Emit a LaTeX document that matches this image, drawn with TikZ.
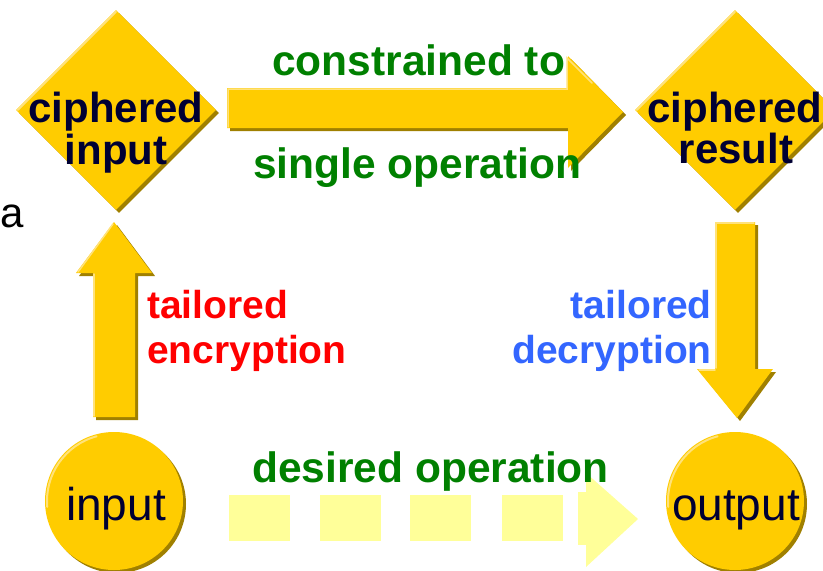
\documentclass[tikz,border=0pt]{standalone}
\usepackage{fontspec}
\setmainfont{Liberation Sans}
\usetikzlibrary{shapes.geometric}
\definecolor{gold}{HTML}{FFCC00}
\definecolor{shadowc}{HTML}{A08000}
\definecolor{hilite}{HTML}{FFE27A}
\definecolor{navy}{HTML}{000033}
\definecolor{dgreen}{HTML}{008000}
\definecolor{bblue}{HTML}{3366FF}
\definecolor{paleyel}{HTML}{FFFF99}
\begin{document}
\begin{tikzpicture}[x=1pt,y=-1pt,
  sh/.style={preaction={fill=shadowc, transform canvas={xshift=3pt,yshift=-3pt}}},
  hl/.style={draw=hilite, line width=2pt, line cap=round},
  dia/.style={diamond, aspect=1, minimum width=200pt, minimum height=200pt, inner sep=0pt, fill=gold, sh},
  circ/.style={circle, minimum size=138pt, inner sep=0pt, fill=gold, sh},
  btxt/.style={font=\fontsize{42}{48}\selectfont\bfseries, text=navy, inner sep=0pt, anchor=base},
  rtxt/.style={font=\fontsize{46}{50}\selectfont, text=navy, inner sep=0pt, anchor=base},
  gtxt/.style={font=\fontsize{42.5}{48}\selectfont\bfseries, text=dgreen, inner sep=0pt, anchor=base west},
  ltxt/.style={font=\fontsize{39}{44}\selectfont\bfseries, inner sep=0pt},
  dashblk/.style={fill=paleyel}
]
\useasboundingbox (0,0) rectangle (823,571);
\fill[white] (0,0) rectangle (823,571);

% diamonds
\node[dia] (ci) at (116,110) {};
\node[dia] (cr) at (735,110) {};
\draw[hl] ([shift={(2,0)}]ci.west) -- ([shift={(0,2)}]ci.north);
\draw[hl] ([shift={(2,0)}]cr.west) -- ([shift={(0,2)}]cr.north);

% circles
\node[circ] (in) at (114,501) {};
\node[circ] (out) at (735,501) {};
\draw[hl] ([shift={(175:67)}]in.center) arc[start angle=175,end angle=255,radius=67];
\draw[hl] ([shift={(175:67)}]out.center) arc[start angle=175,end angle=255,radius=67];

% top block arrow
\path[fill=gold, sh] (227,88) -- (568,88) -- (568,56) -- (623,112) -- (568,168) -- (568,128) -- (227,128) -- cycle;
\draw[hl, line width=1.5pt] (228,127) -- (228,89) -- (567,89) -- (567,58) -- (592,83);

% left up arrow
\path[fill=gold, sh] (93,417) -- (93,273) -- (76,273) -- (114,222) -- (152,273) -- (135,273) -- (135,417) -- cycle;
\draw[hl, line width=1.5pt] (78,272) -- (113,224);
\draw[hl, line width=1.5pt] (94,274) -- (94,416);

% right down arrow
\path[fill=gold, sh] (715,222) -- (755,222) -- (755,369) -- (773,369) -- (737,418) -- (697,369) -- (715,369) -- cycle;
\draw[hl, line width=1.5pt] (716,368) -- (716,223) -- (754,223);
\draw[hl, line width=1.5pt] (699,370) -- (715,370);

% dashed pale arrow
\fill[dashblk] (229,495) rectangle (290,541);
\fill[dashblk] (320,495) rectangle (381,541);
\fill[dashblk] (410,495) rectangle (471,541);
\fill[dashblk] (502,495) rectangle (563,541);
\fill[dashblk] (578,492) rectangle (587,545);
\fill[dashblk] (586,473) -- (638,519) -- (586,567) -- cycle;

% diamond texts
\node[btxt] (ci1) at (116,122) {ciphered};
\node[btxt] (ci2) at (116,164) {input};
\node[btxt] (cr1) at (735,122) {ciphered};
\node[btxt] (cr2) at (736,163) {result};

% circle texts
\node[rtxt] (int) at (116,520) {input};
\node[rtxt] (outt) at (736,520) {output};

% stray letter
\node[font=\fontsize{42}{48}\selectfont, text=black, inner sep=0pt, anchor=base west] (a) at (0.5,227) {a};

% green labels
\node[gtxt] (c1) at (272,75) {constrained to};
\node[gtxt] (c2) at (253,178) {single operation};
\node[gtxt] (d1) at (252,482) {desired operation};

% red labels
\node[ltxt, text=red, anchor=base west] (e1) at (147,318) {tailored};
\node[ltxt, text=red, anchor=base west] (e2) at (147,363) {encryption};

% blue labels
\node[ltxt, text=bblue, anchor=base east] (f1) at (712,318) {tailored};
\node[ltxt, text=bblue, anchor=base east] (f2) at (712,363) {decryption};
\end{tikzpicture}
\end{document}
